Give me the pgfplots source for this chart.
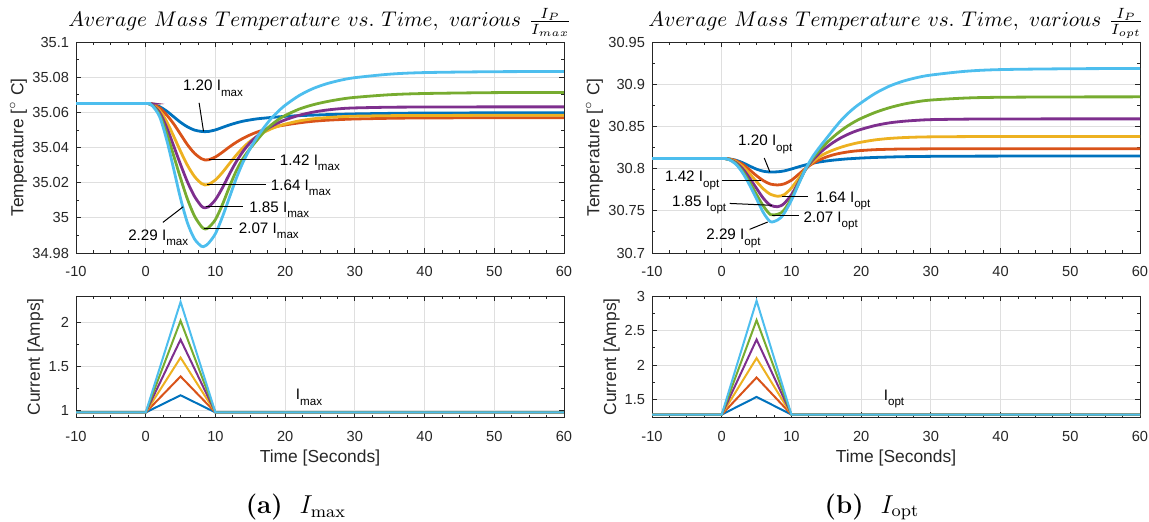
\documentclass[border=0pt]{standalone}
\usepackage{fontspec}
\usepackage{pgfplots}
\usepackage{pgfplotstable}
\pgfplotsset{compat=1.18}
\newfontfamily\arial{Liberation Sans}
\definecolor{mB}{rgb}{0,0.447,0.741}
\definecolor{mO}{rgb}{0.85,0.325,0.098}
\definecolor{mY}{rgb}{0.929,0.694,0.125}
\definecolor{mP}{rgb}{0.494,0.184,0.556}
\definecolor{mG}{rgb}{0.466,0.674,0.188}
\definecolor{mL}{rgb}{0.301,0.745,0.933}
\newcommand\tickfont{\arial\fontsize{7.3}{8}\selectfont}
\newcommand\labfont{\arial\fontsize{8.7}{10}\selectfont}
\newcommand\annfont{\arial\fontsize{7.6}{9}\selectfont}
\newcommand\sub[1]{\smash{\raisebox{-0.7ex}{\fontsize{5.8}{6}\selectfont #1}}}

\pgfplotstableread{
x b o y p g l
-10 35.0650 35.0650 35.0650 35.0650 35.0650 35.0650
0   35.0650 35.0650 35.0650 35.0650 35.0650 35.0650
0.5 35.0649 35.0649 35.0648 35.0648 35.0648 35.0648
1   35.0645 35.0645 35.0642 35.0640 35.0638 35.0635
2   35.0632 35.0625 35.0610 35.0598 35.0585 35.0575
3   35.0607 35.0585 35.0548 35.0515 35.0480 35.0445
4   35.0575 35.0535 35.0465 35.0410 35.0355 35.0280
5   35.0543 35.0475 35.0378 35.0303 35.0225 35.0110
6   35.0517 35.0415 35.0298 35.0203 35.0105 34.9970
7   35.0499 35.0367 35.0235 35.0122 35.0010 34.9880
8   35.0491 35.0336 35.0195 35.0066 34.9950 34.9838
8.5 35.0490 35.0329 35.0187 35.0057 34.9937 34.9840
9   35.0491 35.0330 35.0190 35.0062 34.9944 34.9855
10  35.0500 35.0346 35.0215 35.0103 34.9990 34.9910
11  35.0514 35.0373 35.0258 35.0170 35.0075 35.0005
12  35.0528 35.0403 35.0308 35.0248 35.0175 35.0115
13  35.0540 35.0430 35.0357 35.0320 35.0268 35.0225
14  35.0550 35.0453 35.0400 35.0380 35.0340 35.0320
15  35.0557 35.0472 35.0436 35.0428 35.0395 35.0395
16  35.0563 35.0488 35.0464 35.0465 35.0443 35.0460
17  35.0567 35.0501 35.0487 35.0495 35.0490 35.0515
18  35.0571 35.0512 35.0506 35.0520 35.0528 35.0565
19  35.0574 35.0521 35.0521 35.0540 35.0558 35.0605
20  35.0577 35.0528 35.0533 35.0557 35.0582 35.0640
22  35.0581 35.0540 35.0551 35.0583 35.0618 35.0695
24  35.0584 35.0549 35.0563 35.0601 35.0643 35.0735
26  35.0587 35.0555 35.0570 35.0613 35.0661 35.0763
28  35.0589 35.0559 35.0575 35.0621 35.0675 35.0783
30  35.0591 35.0562 35.0578 35.0625 35.0685 35.0797
35  35.0594 35.0566 35.0581 35.0629 35.0700 35.0817
40  35.0596 35.0568 35.0582 35.0630 35.0707 35.0826
50  35.0597 35.0569 35.0583 35.0631 35.0712 35.0831
60  35.0598 35.0569 35.0583 35.0631 35.0713 35.0832
}\TL

\pgfplotstableread{
x b o y p g l
-10 30.8120 30.8120 30.8120 30.8120 30.8120 30.8120
0   30.8120 30.8120 30.8120 30.8120 30.8120 30.8120
0.5 30.8119 30.8119 30.8119 30.8118 30.8118 30.8118
1   30.8116 30.8115 30.8113 30.8111 30.8110 30.8108
2   30.8100 30.8095 30.8085 30.8073 30.8063 30.8055
3   30.8070 30.8050 30.8025 30.7998 30.7968 30.7950
4   30.8030 30.7985 30.7940 30.7888 30.7838 30.7805
5   30.7993 30.7915 30.7845 30.7765 30.7692 30.7640
6   30.7968 30.7856 30.7757 30.7645 30.7553 30.7475
7   30.7959 30.7816 30.7695 30.7565 30.7455 30.7370
8   30.7962 30.7806 30.7672 30.7548 30.7458 30.7390
8.5 30.7966 30.7810 30.7676 30.7560 30.7475 30.7420
9   30.7973 30.7820 30.7692 30.7590 30.7515 30.7475
10  30.7995 30.7862 30.7770 30.7690 30.7645 30.7625
11  30.8020 30.7930 30.7880 30.7835 30.7820 30.7810
12  30.8043 30.8000 30.7990 30.7985 30.7990 30.7990
13  30.8063 30.8058 30.8075 30.8095 30.8115 30.8135
14  30.8078 30.8102 30.8140 30.8180 30.8215 30.8250
15  30.8090 30.8137 30.8185 30.8250 30.8300 30.8355
16  30.8100 30.8163 30.8220 30.8310 30.8375 30.8460
17  30.8108 30.8182 30.8250 30.8360 30.8443 30.8560
18  30.8115 30.8196 30.8275 30.8402 30.8502 30.8645
19  30.8120 30.8207 30.8296 30.8437 30.8552 30.8718
20  30.8125 30.8214 30.8313 30.8465 30.8595 30.8780
22  30.8132 30.8224 30.8340 30.8510 30.8665 30.8890
24  30.8137 30.8229 30.8357 30.8541 30.8720 30.8975
26  30.8141 30.8232 30.8367 30.8560 30.8762 30.9035
28  30.8143 30.8233 30.8373 30.8572 30.8792 30.9078
30  30.8145 30.8234 30.8376 30.8580 30.8812 30.9108
35  30.8147 30.8235 30.8379 30.8586 30.8836 30.9153
40  30.8148 30.8235 30.8380 30.8588 30.8845 30.9173
50  30.8149 30.8235 30.8380 30.8589 30.8849 30.9183
60  30.8149 30.8235 30.8380 30.8589 30.8850 30.9186
}\TR

\pgfplotstableread{
x b o y p g l
-10 0.975 0.975 0.975 0.975 0.975 0.975
0 0.975 0.975 0.975 0.975 0.975 0.975
5 1.170 1.3845 1.599 1.8038 2.0183 2.2328
10 0.975 0.975 0.975 0.975 0.975 0.975
60 0.975 0.975 0.975 0.975 0.975 0.975
}\BL

\pgfplotstableread{
x b o y p g l
-10 1.28 1.28 1.28 1.28 1.28 1.28
0 1.28 1.28 1.28 1.28 1.28 1.28
5 1.536 1.8176 2.0992 2.368 2.6496 2.9312
10 1.28 1.28 1.28 1.28 1.28 1.28
60 1.28 1.28 1.28 1.28 1.28 1.28
}\BR

\pgfplotsset{
  base/.style={
    scale only axis, width=244pt,
    xmin=-10, xmax=60,
    xtick={-10,0,10,20,30,40,50,60},
    xticklabels={-10,0,10,20,30,40,50,60},
    minor x tick num=3, minor y tick num=1,
    grid=major,
    major grid style={draw=gray!25, line width=0.4pt},
    tick align=inside,
    major tick length=2.6pt, minor tick length=1.5pt,
    tick style={black!85, line width=0.4pt},
    axis line style={black!85, line width=0.45pt},
    tick label style={font=\tickfont, text=black!85},
    xticklabel style={yshift=-3.3pt},
    label style={font=\labfont, text=black!85},
  },
  top/.style={base, height=105.5pt,
    ylabel style={at={(axis description cs:-0.118,0.5)}, anchor=center},
    every axis plot/.append style={line width=1.4pt, smooth}},
  bot/.style={base, height=60.85pt, xlabel={Time [Seconds]}, ylabel={Current [Amps]},
    ylabel style={at={(axis description cs:-0.083,0.5)}, anchor=center},
    xlabel style={at={(axis description cs:0.5,-0.331)}, anchor=center},
    every axis plot/.append style={line width=1pt}},
}
\tikzset{
  ann/.style={font=\annfont, inner sep=0pt, text=black},
  al/.style={draw=black, line width=0.5pt},
}

\begin{document}
\begin{tikzpicture}
\useasboundingbox (0,0) rectangle (574.5pt,261pt);

% ---------- top left ----------
\begin{axis}[top, at={(38pt,134.5pt)}, anchor=south west,
  ymin=34.98, ymax=35.1,
  ytick={34.98,35,35.02,35.04,35.06,35.08,35.1},
  yticklabels={34.98,35,35.02,35.04,35.06,35.08,35.1},
  ylabel={Temperature [$^\circ$ C]}]
\addplot[mB] table[x=x,y=b]{\TL};
\addplot[mO] table[x=x,y=o]{\TL};
\addplot[mY] table[x=x,y=y]{\TL};
\addplot[mP] table[x=x,y=p]{\TL};
\addplot[mG] table[x=x,y=g]{\TL};
\addplot[mL] table[x=x,y=l]{\TL};
\draw[al] (axis cs:7.66,35.0654) -- (axis cs:8.29,35.0492);
\node[ann] at (axis cs:9.65,35.0752) {1.20 I\sub{max}};
\draw[al] (axis cs:9.1,35.0329) -- (axis cs:18.6,35.0329);
\node[ann, anchor=west] at (axis cs:19.2,35.0329) {1.42 I\sub{max}};
\draw[al] (axis cs:8.8,35.0187) -- (axis cs:17.2,35.0187);
\node[ann, anchor=west] at (axis cs:17.9,35.0187) {1.64 I\sub{max}};
\draw[al] (axis cs:8.6,35.0062) -- (axis cs:13.9,35.0062);
\node[ann, anchor=west] at (axis cs:14.8,35.0062) {1.85 I\sub{max}};
\draw[al] (axis cs:8.3,34.9942) -- (axis cs:12.4,34.9942);
\node[ann, anchor=west] at (axis cs:13.3,34.9942) {2.07 I\sub{max}};
\draw[al] (axis cs:5.38,35.0063) -- (axis cs:2.46,34.9974);
\node[ann] at (axis cs:1.8,34.9902) {2.29 I\sub{max}};
\end{axis}

% ---------- top right ----------
\begin{axis}[top, at={(326pt,134.5pt)}, anchor=south west,
  ymin=30.7, ymax=30.95,
  ytick={30.7,30.75,30.8,30.85,30.9,30.95},
  yticklabels={30.7,30.75,30.8,30.85,30.9,30.95},
  ylabel={Temperature [$^\circ$ C]}]
\addplot[mB] table[x=x,y=b]{\TR};
\addplot[mO] table[x=x,y=o]{\TR};
\addplot[mY] table[x=x,y=y]{\TR};
\addplot[mP] table[x=x,y=p]{\TR};
\addplot[mG] table[x=x,y=g]{\TR};
\addplot[mL] table[x=x,y=l]{\TR};
\draw[al] (axis cs:6.1,30.8125) -- (axis cs:6.9,30.7962);
\node[ann] at (axis cs:6.25,30.833) {1.20 I\sub{opt}};
\draw[al] (axis cs:0.1,30.7862) -- (axis cs:5.6,30.7862);
\node[ann, anchor=east] at (axis cs:-0.3,30.7905) {1.42 I\sub{opt}};
\draw[al] (axis cs:8.7,30.7666) -- (axis cs:12.4,30.7666);
\node[ann, anchor=west] at (axis cs:13.5,30.7662) {1.64 I\sub{opt}};
\draw[al] (axis cs:1.15,30.7587) -- (axis cs:7.2,30.7565);
\node[ann, anchor=east] at (axis cs:0.7,30.7615) {1.85 I\sub{opt}};
\draw[al] (axis cs:7.16,30.7446) -- (axis cs:11.08,30.7446);
\node[ann, anchor=west] at (axis cs:11.7,30.7426) {2.07 I\sub{opt}};
\draw[al] (axis cs:4.0,30.728) -- (axis cs:6.6,30.7367);
\node[ann] at (axis cs:1.68,30.7222) {2.29 I\sub{opt}};
\end{axis}

% ---------- bottom left ----------
\begin{axis}[bot, at={(38pt,52.15pt)}, anchor=south west,
  ymin=0.915, ymax=2.3,
  ytick={1,1.5,2}, yticklabels={1,1.5,2}]
\addplot[mB] table[x=x,y=b]{\BL};
\addplot[mO] table[x=x,y=o]{\BL};
\addplot[mY] table[x=x,y=y]{\BL};
\addplot[mP] table[x=x,y=p]{\BL};
\addplot[mG] table[x=x,y=g]{\BL};
\addplot[mL] table[x=x,y=l]{\BL};
\node[ann, anchor=west] at (axis cs:21.5,1.178) {I\sub{max}};
\end{axis}

% ---------- bottom right ----------
\begin{axis}[bot, at={(326pt,52.15pt)}, anchor=south west,
  ymin=1.235, ymax=3.0,
  ytick={1.5,2,2.5,3}, yticklabels={1.5,2,2.5,3}]
\addplot[mB] table[x=x,y=b]{\BR};
\addplot[mO] table[x=x,y=o]{\BR};
\addplot[mY] table[x=x,y=y]{\BR};
\addplot[mP] table[x=x,y=p]{\BR};
\addplot[mG] table[x=x,y=g]{\BR};
\addplot[mL] table[x=x,y=l]{\BR};
\node[ann, anchor=west] at (axis cs:23.2,1.564) {I\sub{opt}};
\end{axis}

% ---------- titles & captions ----------
\node[anchor=base, font=\normalsize, scale=1.06, transform shape] at (160pt,247.5pt)
  {$Average\ Mass\ Temperature\ vs.\ Time,\ various\ \frac{I_P}{I_{max}}$};
\node[anchor=base, font=\normalsize, scale=1.06, transform shape] at (448pt,247.5pt)
  {$Average\ Mass\ Temperature\ vs.\ Time,\ various\ \frac{I_P}{I_{opt}}$};
\node[font=\large, scale=1.08, transform shape] at (148pt,7.5pt) {\textbf{(a)}\ \ $I_{\max}$};
\node[font=\large, scale=1.08, transform shape] at (436pt,7.5pt) {\textbf{(b)}\ \ $I_{\mathrm{opt}}$};
\end{tikzpicture}
\end{document}
